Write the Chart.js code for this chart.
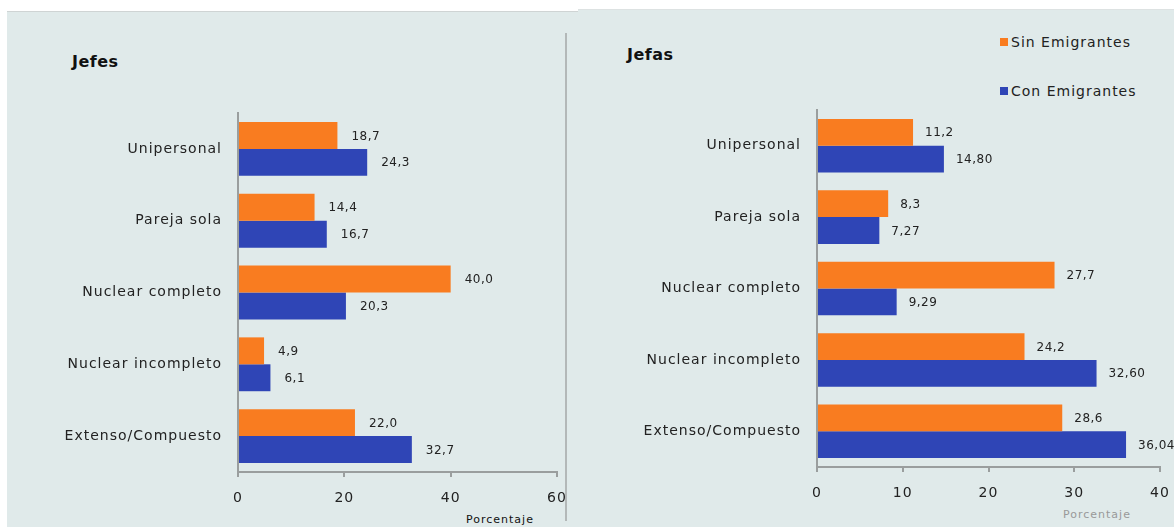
<!DOCTYPE html>
<html>
<head>
<meta charset="utf-8">
<script src="https://cdn.jsdelivr.net/npm/chart.js@4"></script>
<style>
  body { margin: 0; background: #fff; width: 1174px; height: 527px; overflow: hidden; position: relative; font-family: "DejaVu Sans", sans-serif; }
  .panel { position: absolute; background: #e0eaea; }
  .title { position: absolute; font-weight: bold; font-size: 16px; color: #111; letter-spacing: 0.5px; }
  .legend { position: absolute; font-size: 14px; color: #222; letter-spacing: 1px; }
  .legend span { display: inline-block; width: 8px; height: 8px; margin-right: 3px; vertical-align: 1px; }
  .unit { position: absolute; font-size: 11px; letter-spacing: 1px; }
  canvas { position: absolute; top: 0; }
</style>
</head>
<body>
<div class="panel" style="left:7px; top:11px; width:571px; height:516px; border-top:1px solid #cfd4d4;"></div>
<div class="panel" style="left:578px; top:9px; width:596px; height:518px; border-top:1px solid #dde2e2;"></div>
<div style="position:absolute; left:565px; top:33px; width:2px; height:488px; background:#b3b8b8;"></div>

<div class="title" style="left:72px; top:52px;">Jefes</div>
<div class="title" style="left:627px; top:45px;">Jefas</div>
<div class="legend" style="left:1000px; top:34px;"><span style="background:#f97c20"></span>Sin Emigrantes</div>
<div class="legend" style="left:1000px; top:83px;"><span style="background:#2f45b6"></span>Con Emigrantes</div>
<div class="unit" style="left:466px; top:513px; color:#111;">Porcentaje</div>
<div class="unit" style="left:1063px; top:508px; color:#999;">Porcentaje</div>

<canvas id="jefes" width="570" height="527" style="left:0px;"></canvas>
<canvas id="jefas" width="599" height="527" style="left:575px;"></canvas>

<script>
// Datos
const categories = ['Unipersonal', 'Pareja sola', 'Nuclear completo', 'Nuclear incompleto', 'Extenso/Compuesto'];
const jefesSin = [18.7, 14.4, 40.0, 4.9, 22.0];
const jefesCon = [24.3, 16.7, 20.3, 6.1, 32.7];
const jefasSin = [11.2, 8.3, 27.7, 24.2, 28.6];
const jefasCon = [14.80, 7.27, 9.29, 32.60, 36.04];
const jefesTicks = [0, 20, 40, 60];
const jefasTicks = [0, 10, 20, 30, 40];

const ORANGE = '#f97c20';
const BLUE = '#2f45b6';
const AXIS = '#9a9e9e';
const FONT = '"DejaVu Sans", sans-serif';

// Espaciado de letras como en el original
const spacing = {
    id: 'spacing',
    beforeDraw(chart) { chart.ctx.letterSpacing = '1px'; }
};

// Etiquetas de valor al final de cada barra
const valueLabels = {
    id: 'valueLabels',
    afterDatasetsDraw(chart, args, opts) {
        const ctx = chart.ctx;
        ctx.save();
        ctx.letterSpacing = '0.5px';
        ctx.font = '12px ' + FONT;
        ctx.fillStyle = '#222';
        ctx.textBaseline = 'middle';
        chart.data.datasets.forEach((ds, i) => {
            const meta = chart.getDatasetMeta(i);
            meta.data.forEach((bar, j) => {
                const txt = ds.data[j].toFixed(ds.decimals).replace('.', ',');
                ctx.fillText(txt, bar.x + opts.offset, bar.y + 1);
            });
        });
        ctx.restore();
    }
};

function makeChart(id, sin, con, conDecimals, ticks, cfg) {
    return new Chart(document.getElementById(id), {
        type: 'bar',
        data: {
            labels: categories,
            datasets: [
                { label: 'Sin Emigrantes', data: sin, backgroundColor: ORANGE, decimals: 1 },
                { label: 'Con Emigrantes', data: con, backgroundColor: BLUE, decimals: conDecimals }
            ]
        },
        options: {
            indexAxis: 'y',
            responsive: false,
            animation: false,
            events: [],
            layout: { padding: { top: cfg.top, right: cfg.right, left: 0, bottom: 0 } },
            datasets: { bar: { categoryPercentage: 0.75, barPercentage: 1.0 } },
            plugins: {
                legend: { display: false },
                tooltip: { enabled: false },
                valueLabels: { offset: cfg.labelOffset }
            },
            scales: {
                x: {
                    min: ticks[0],
                    max: ticks[ticks.length - 1],
                    afterBuildTicks: s => { s.ticks = ticks.map(v => ({ value: v })); },
                    afterFit: s => { s.height = cfg.xHeight; s.paddingRight = 0; s.paddingLeft = 0; },
                    grid: { drawOnChartArea: false, tickLength: 5, color: AXIS, lineWidth: 2 },
                    border: { color: AXIS, width: 2 },
                    ticks: { padding: 13, color: '#222', font: { family: FONT, size: 14 } }
                },
                y: {
                    afterFit: s => { s.width = cfg.yWidth; },
                    grid: { display: false },
                    border: { color: AXIS, width: 2 },
                    ticks: { padding: 8, color: '#222', font: { family: FONT, size: 14 } }
                }
            }
        },
        plugins: [spacing, valueLabels]
    });
}

makeChart('jefes', jefesSin, jefesCon, 1, jefesTicks,
    { top: 113, right: 13, yWidth: 238, xHeight: 55, labelOffset: 14 });
makeChart('jefas', jefasSin, jefasCon, 2, jefasTicks,
    { top: 110, right: 14, yWidth: 242, xHeight: 60, labelOffset: 12 });
</script>
</body>
</html>
